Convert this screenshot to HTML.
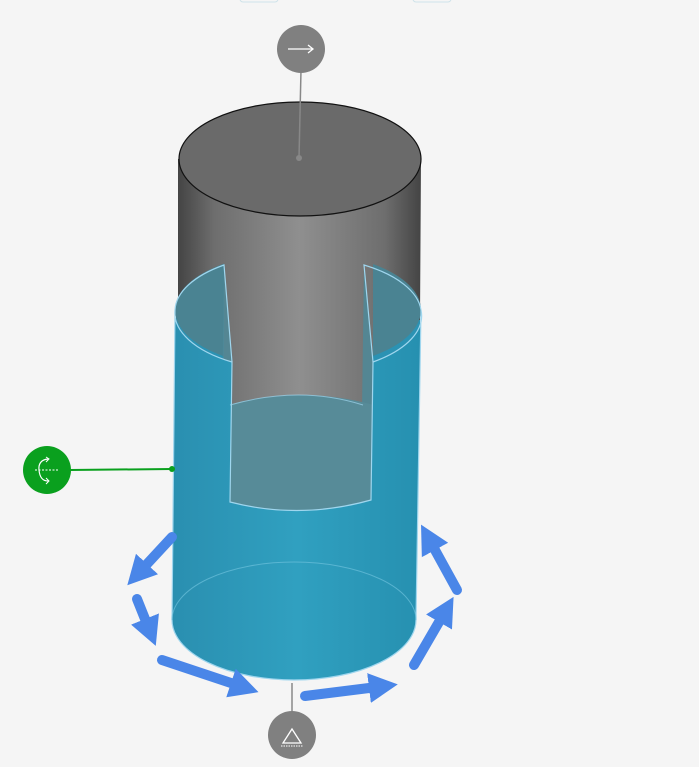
<!DOCTYPE html>
<html><head><meta charset="utf-8"><style>html,body{margin:0;padding:0;background:#f5f5f5;}svg{display:block}</style></head>
<body>
<svg width="699" height="767" viewBox="0 0 699 767" xmlns="http://www.w3.org/2000/svg">
<defs>
<linearGradient id="gs" x1="178" x2="421" y1="0" y2="0" gradientUnits="userSpaceOnUse">
<stop offset="0" stop-color="#444"/><stop offset="0.15" stop-color="#6e6e6e"/><stop offset="0.5" stop-color="#8f8f8f"/><stop offset="0.85" stop-color="#6e6e6e"/><stop offset="1" stop-color="#444"/>
</linearGradient>
<linearGradient id="bg" x1="0" x2="1" y1="0" y2="0">
<stop offset="0" stop-color="#2a8fb0"/><stop offset="0.5" stop-color="#30a0c0"/><stop offset="1" stop-color="#2690b0"/>
</linearGradient>
<clipPath id="sides"><rect x="0" y="0" width="224" height="767"/><rect x="364" y="0" width="400" height="767"/></clipPath>
<marker id="ah" markerUnits="userSpaceOnUse" markerWidth="40" markerHeight="40" refX="0" refY="16" orient="auto" viewBox="0 0 40 32">
<path d="M0,1 L29,16 L0,31 z" fill="#4a86e8"/>
</marker>
</defs>
<rect x="240" y="-6" width="38" height="8" rx="3" fill="none" stroke="#cfe3ea"/>
<rect x="413" y="-6" width="38" height="8" rx="3" fill="none" stroke="#cfe3ea"/>
<!-- blue filler behind rim -->
<path d="M176,312 L420,312 L420,380 L176,380 Z" fill="#2b92b3"/>
<!-- gray cylinder -->
<path d="M178,159 L178,320 L224,320 L224,400 L373,400 L373,320 L420,320 L421,159 Z" fill="url(#gs)"/>
<ellipse cx="300" cy="159" rx="121" ry="57" fill="#6a6a6a" stroke="#111" stroke-width="1.2"/>
<!-- blue opening interior (sides only) -->
<ellipse cx="298" cy="310" rx="123" ry="58" fill="#4a8392" clip-path="url(#sides)"/>
<path d="M224,240 L373,240 L373,410 L224,410 Z" fill="url(#gs)"/>
<path d="M224,265 L232,362 L231,410 L222,410 Z" fill="#4f8a99" opacity="0.85"/>
<path d="M364,265 L373,362 L373,410 L362,410 Z" fill="#4f8a99" opacity="0.85"/>
<path d="M228,405 Q300,385 374,405 L371,500 Q300,520 230,502 Z" fill="#578b98"/>
<!-- blue body -->
<path d="M175,310 L172,620 A122,60 0 0 0 416,620 L421,310 A123,58 0 0 1 373,362 L371,500 Q300,520 230,502 L232,362 A123,58 0 0 1 175,310 Z" fill="url(#bg)" stroke="#9fd6ee" stroke-width="1.2"/>
<path d="M172,620 A122,58 0 0 1 416,620" fill="none" stroke="#6cc0dc" stroke-width="1" opacity="0.7"/>
<path d="M175,310 A123,58 0 0 1 224,265 L232,362 M421,310 A123,58 0 0 0 364,265 L373,362" fill="none" stroke="#9fd6ee" stroke-width="1.2"/>
<path d="M230,405 Q300,385 363,405" fill="none" stroke="#9fd6ee" stroke-width="1" opacity="0.7"/>
<!-- arrows -->
<g stroke="#4a86e8" stroke-width="10" stroke-linecap="round" fill="none" marker-end="url(#ah)">
<line x1="172" y1="537" x2="147" y2="564"/>
<line x1="137" y1="599" x2="145" y2="619"/>
<line x1="162" y1="660" x2="231" y2="683"/>
<line x1="305" y1="696" x2="369" y2="688"/>
<line x1="414" y1="665" x2="439" y2="622"/>
<line x1="457" y1="590" x2="435" y2="550"/>
</g>
<!-- connectors -->
<line x1="301" y1="70" x2="299" y2="158" stroke="#888" stroke-width="1.5"/>
<circle cx="299" cy="158" r="3" fill="#888"/>
<circle cx="301" cy="49" r="24" fill="#808080"/>
<line x1="288" y1="49" x2="313" y2="49" stroke="#fff" stroke-width="1.3"/>
<path d="M308,45 L313,49 L308,53" stroke="#fff" stroke-width="1.3" fill="none"/>
<line x1="70" y1="470" x2="172" y2="469" stroke="#0aa01e" stroke-width="2"/>
<circle cx="172" cy="469" r="3" fill="#0aa01e"/>
<circle cx="47" cy="470" r="24" fill="#0aa01e"/>
<line x1="35" y1="470" x2="59" y2="470" stroke="#fff" stroke-width="1" stroke-dasharray="2,1.5"/>
<path d="M48,459 Q38,460 39,470 Q40,481 48,481" stroke="#fff" stroke-width="1.2" fill="none"/>
<path d="M46,457 L49,459 L46,462 M46,478 L49,481 L46,484" stroke="#fff" stroke-width="1" fill="none"/>
<line x1="292" y1="683" x2="292" y2="712" stroke="#888" stroke-width="1.5"/>
<circle cx="292" cy="735" r="24" fill="#808080"/>
<path d="M283,743 L292,729 L301,743 Z" stroke="#fff" stroke-width="1.3" fill="none"/>
<line x1="281" y1="746" x2="303" y2="746" stroke="#fff" stroke-width="1" stroke-dasharray="1.5,1"/>
</svg>
</body></html>
